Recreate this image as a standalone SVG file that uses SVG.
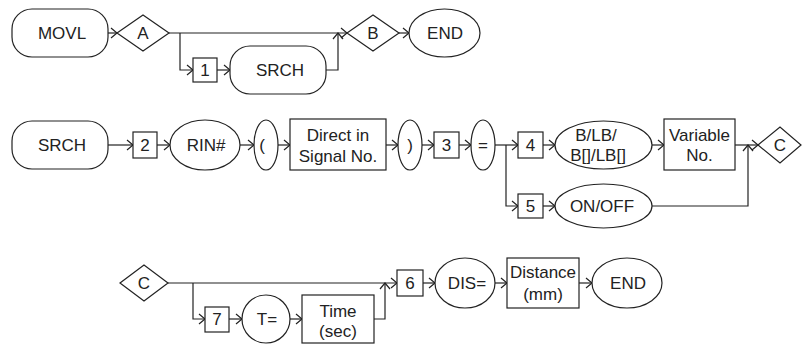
<svg xmlns="http://www.w3.org/2000/svg" width="802" height="345" viewBox="0 0 802 345">
<defs>
<marker id="arr" markerUnits="userSpaceOnUse" markerWidth="10" markerHeight="12" viewBox="-1 -6 9 12" refX="6" refY="0" orient="auto">
<path d="M0,-5 L6,0 L0,5" fill="none" stroke="#222" stroke-width="1.2"/>
</marker>
</defs>
<style>
.s{fill:#fff;stroke:#222;stroke-width:1.2}
.c{fill:none;stroke:#222;stroke-width:1.2;marker-end:url(#arr)}
text{font-family:"Liberation Sans",Arial,sans-serif;font-size:17px;fill:#222;text-anchor:middle}
</style>
<rect width="802" height="345" fill="#fff"/>
<g id="connectors">
<path class="c" d="M108,33 H117"/>
<path class="c" d="M169,33 H347"/>
<path class="c" d="M180,33 V70 H193"/>
<path class="c" d="M217,70 H230"/>
<path class="c" d="M326,70 H338 V33"/>
<path class="c" d="M399,33 H409"/>
<path class="c" d="M108,145 H133"/>
<path class="c" d="M157,145 H170"/>
<path class="c" d="M240,145 H254"/>
<path class="c" d="M278,145 H290"/>
<path class="c" d="M386,145 H398"/>
<path class="c" d="M422,145 H434"/>
<path class="c" d="M459,145 H471"/>
<path class="c" d="M495,145 H518"/>
<path class="c" d="M506,145 V206 H518"/>
<path class="c" d="M543,145 H555"/>
<path class="c" d="M543,206 H555"/>
<path class="c" d="M652,145 H664"/>
<path class="c" d="M735,145 H758"/>
<path class="c" d="M652,206 H748 V145"/>
<path class="c" d="M168,283 H397"/>
<path class="c" d="M193,283 V319 H205"/>
<path class="c" d="M229,319 H242"/>
<path class="c" d="M290,319 H302"/>
<path class="c" d="M374,319 H385 V283"/>
<path class="c" d="M423,283 H435"/>
<path class="c" d="M495,283 H507"/>
<path class="c" d="M579,283 H592"/>
</g>
<g id="movl"><rect class="s" x="12" y="9" width="96" height="48" rx="20"/><text x="62" y="39">MOVL</text></g>
<g id="a1"><polygon class="s" points="117,33 143,15 169,33 143,51"/><text x="143" y="39">A</text></g>
<g id="n1"><rect class="s" x="193" y="58" width="24" height="24"/><text x="205" y="76">1</text></g>
<g id="srch1"><rect class="s" x="230" y="46" width="96" height="48" rx="20"/><text x="280" y="76">SRCH</text></g>
<g id="b1"><polygon class="s" points="347,33 373,15 399,33 373,51"/><text x="373" y="39">B</text></g>
<g id="end1"><ellipse class="s" cx="444.5" cy="33" rx="35.5" ry="24"/><text x="445" y="39">END</text></g>

<g id="srch2"><rect class="s" x="12" y="121" width="96" height="48" rx="20"/><text x="62" y="151">SRCH</text></g>
<g id="n2"><rect class="s" x="133" y="132" width="24" height="26"/><text x="145" y="151">2</text></g>
<g id="rin"><ellipse class="s" cx="205" cy="145" rx="35" ry="25"/><text x="206" y="151">RIN#</text></g>
<g id="lp"><ellipse class="s" cx="266" cy="145" rx="12" ry="25"/><text x="262" y="151">(</text></g>
<g id="direct"><rect class="s" x="290" y="119" width="96" height="51"/><text x="338" y="141">Direct in</text><text x="338" y="162">Signal No.</text></g>
<g id="rp"><ellipse class="s" cx="410" cy="145" rx="12" ry="25"/><text x="410" y="151">)</text></g>
<g id="n3"><rect class="s" x="434" y="132" width="25" height="26"/><text x="446.5" y="151">3</text></g>
<g id="eq"><ellipse class="s" cx="483" cy="145" rx="12" ry="25"/><text x="483" y="151">=</text></g>
<g id="n4"><rect class="s" x="518" y="132" width="25" height="26"/><text x="530.5" y="151">4</text></g>
<g id="blb"><ellipse class="s" cx="603.5" cy="145" rx="48.5" ry="24"/><text x="596" y="141">B/LB/</text><text x="598" y="161">B[]/LB[]</text></g>
<g id="varno"><rect class="s" x="664" y="119" width="71" height="51"/><text x="699.5" y="141">Variable</text><text x="699.5" y="161">No.</text></g>
<g id="c1"><polygon class="s" points="758,145 780,127 801,145 780,163"/><text x="780" y="151">C</text></g>
<g id="n5"><rect class="s" x="518" y="194" width="25" height="24"/><text x="530.5" y="212">5</text></g>
<g id="onoff"><ellipse class="s" cx="603.5" cy="206" rx="48.5" ry="22"/><text x="602" y="212">ON/OFF</text></g>

<g id="c2"><polygon class="s" points="120,283 144,265 168,283 144,301"/><text x="144" y="289">C</text></g>
<g id="n7"><rect class="s" x="205" y="307" width="24" height="25"/><text x="217" y="325">7</text></g>
<g id="teq"><ellipse class="s" cx="266" cy="319" rx="24" ry="24"/><text x="267" y="325">T=</text></g>
<g id="time"><rect class="s" x="302" y="295" width="72" height="48"/><text x="338" y="317">Time</text><text x="338" y="337">(sec)</text></g>
<g id="n6"><rect class="s" x="397" y="270" width="26" height="26"/><text x="410" y="289">6</text></g>
<g id="dis"><ellipse class="s" cx="465" cy="283" rx="30" ry="25"/><text x="467" y="289">DIS=</text></g>
<g id="dist"><rect class="s" x="507" y="258" width="72" height="50"/><text x="543" y="278">Distance</text><text x="543" y="300">(mm)</text></g>
<g id="end2"><ellipse class="s" cx="627" cy="283" rx="35" ry="25"/><text x="628" y="289">END</text></g>
</svg>
